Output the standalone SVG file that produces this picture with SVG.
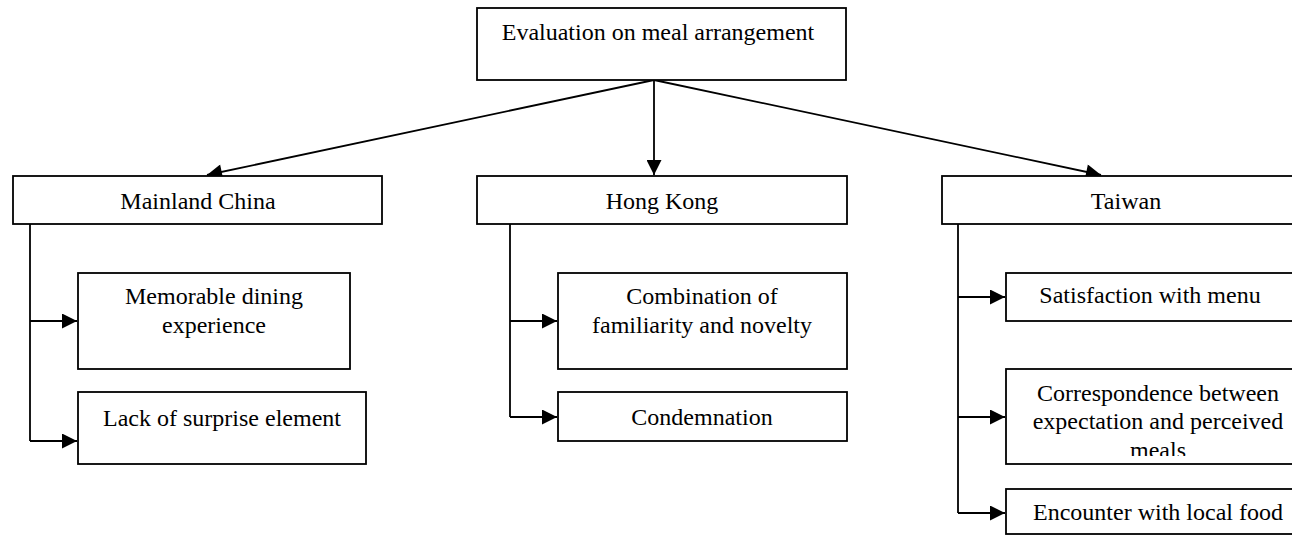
<svg xmlns="http://www.w3.org/2000/svg" width="1292" height="536" viewBox="0 0 1292 536">
  <defs>
    <marker id="arrow" viewBox="0 0 10 10" refX="10" refY="5" markerWidth="16" markerHeight="15" markerUnits="userSpaceOnUse" orient="auto">
      <path d="M0,0 L10,5 L0,10 Z" fill="#000"/>
    </marker>
    <!-- text area of the Correspondence box; the last line overflows and is cut -->
    <clipPath id="clip-corr">
      <rect x="1006" y="369" width="300" height="87"/>
    </clipPath>
  </defs>
  <style>
    .box { fill: #fff; stroke: #000; stroke-width: 1.8; }
    .lbl { font-family: "Liberation Serif", "Times New Roman", serif; font-size: 24px; fill: #000; text-anchor: middle; }
    .link { fill: none; stroke: #000; stroke-width: 1.8; }
    .arr { marker-end: url(#arrow); }
  </style>
  <rect width="1292" height="536" fill="#fff"/>

  <g id="connectors">
    <!-- root to regions -->
    <line class="link arr" x1="654" y1="80" x2="207" y2="175"/>
    <line class="link arr" x1="654" y1="80" x2="654" y2="175"/>
    <line class="link arr" x1="654" y1="80" x2="1101" y2="175"/>
    <!-- Mainland China branches -->
    <polyline class="link" points="30,224 30,441"/>
    <line class="link arr" x1="30" y1="321" x2="77" y2="321"/>
    <line class="link arr" x1="30" y1="441" x2="77" y2="441"/>
    <!-- Hong Kong branches -->
    <polyline class="link" points="510,224 510,417"/>
    <line class="link arr" x1="510" y1="321" x2="557" y2="321"/>
    <line class="link arr" x1="510" y1="417" x2="557" y2="417"/>
    <!-- Taiwan branches -->
    <polyline class="link" points="958,224 958,513"/>
    <line class="link arr" x1="958" y1="297" x2="1005" y2="297"/>
    <line class="link arr" x1="958" y1="417" x2="1005" y2="417"/>
    <line class="link arr" x1="958" y1="513" x2="1005" y2="513"/>
  </g>

  <g id="root">
    <rect class="box" x="477" y="8" width="369" height="72"/>
    <text class="lbl" x="658" y="40">Evaluation on meal arrangement</text>
  </g>

  <g id="mainland">
    <rect class="box" x="13" y="176" width="369" height="48"/>
    <text class="lbl" x="198" y="209">Mainland China</text>
  </g>
  <g id="memorable">
    <rect class="box" x="78" y="273" width="272" height="96"/>
    <text class="lbl" x="214" y="304">Memorable dining</text>
    <text class="lbl" x="214" y="333">experience</text>
  </g>
  <g id="lack">
    <rect class="box" x="78" y="392" width="288" height="72"/>
    <text class="lbl" x="222" y="426">Lack of surprise element</text>
  </g>

  <g id="hongkong">
    <rect class="box" x="477" y="176" width="370" height="48"/>
    <text class="lbl" x="662" y="209">Hong Kong</text>
  </g>
  <g id="combination">
    <rect class="box" x="558" y="273" width="289" height="96"/>
    <text class="lbl" x="702" y="304">Combination of</text>
    <text class="lbl" x="702" y="333">familiarity and novelty</text>
  </g>
  <g id="condemnation">
    <rect class="box" x="558" y="392" width="289" height="49"/>
    <text class="lbl" x="702" y="425">Condemnation</text>
  </g>

  <g id="taiwan">
    <rect class="box" x="942" y="176" width="369" height="48"/>
    <text class="lbl" x="1126" y="209">Taiwan</text>
  </g>
  <g id="satisfaction">
    <rect class="box" x="1006" y="273" width="300" height="48"/>
    <text class="lbl" x="1150" y="303">Satisfaction with menu</text>
  </g>
  <g id="correspondence">
    <rect class="box" x="1006" y="369" width="300" height="95"/>
    <g clip-path="url(#clip-corr)">
      <text class="lbl" x="1158" y="401">Correspondence between</text>
      <text class="lbl" x="1158" y="429">expectation and perceived</text>
      <text class="lbl" x="1158" y="458">meals</text>
    </g>
  </g>
  <g id="encounter">
    <rect class="box" x="1006" y="489" width="300" height="45"/>
    <text class="lbl" x="1158" y="520">Encounter with local food</text>
  </g>
</svg>
